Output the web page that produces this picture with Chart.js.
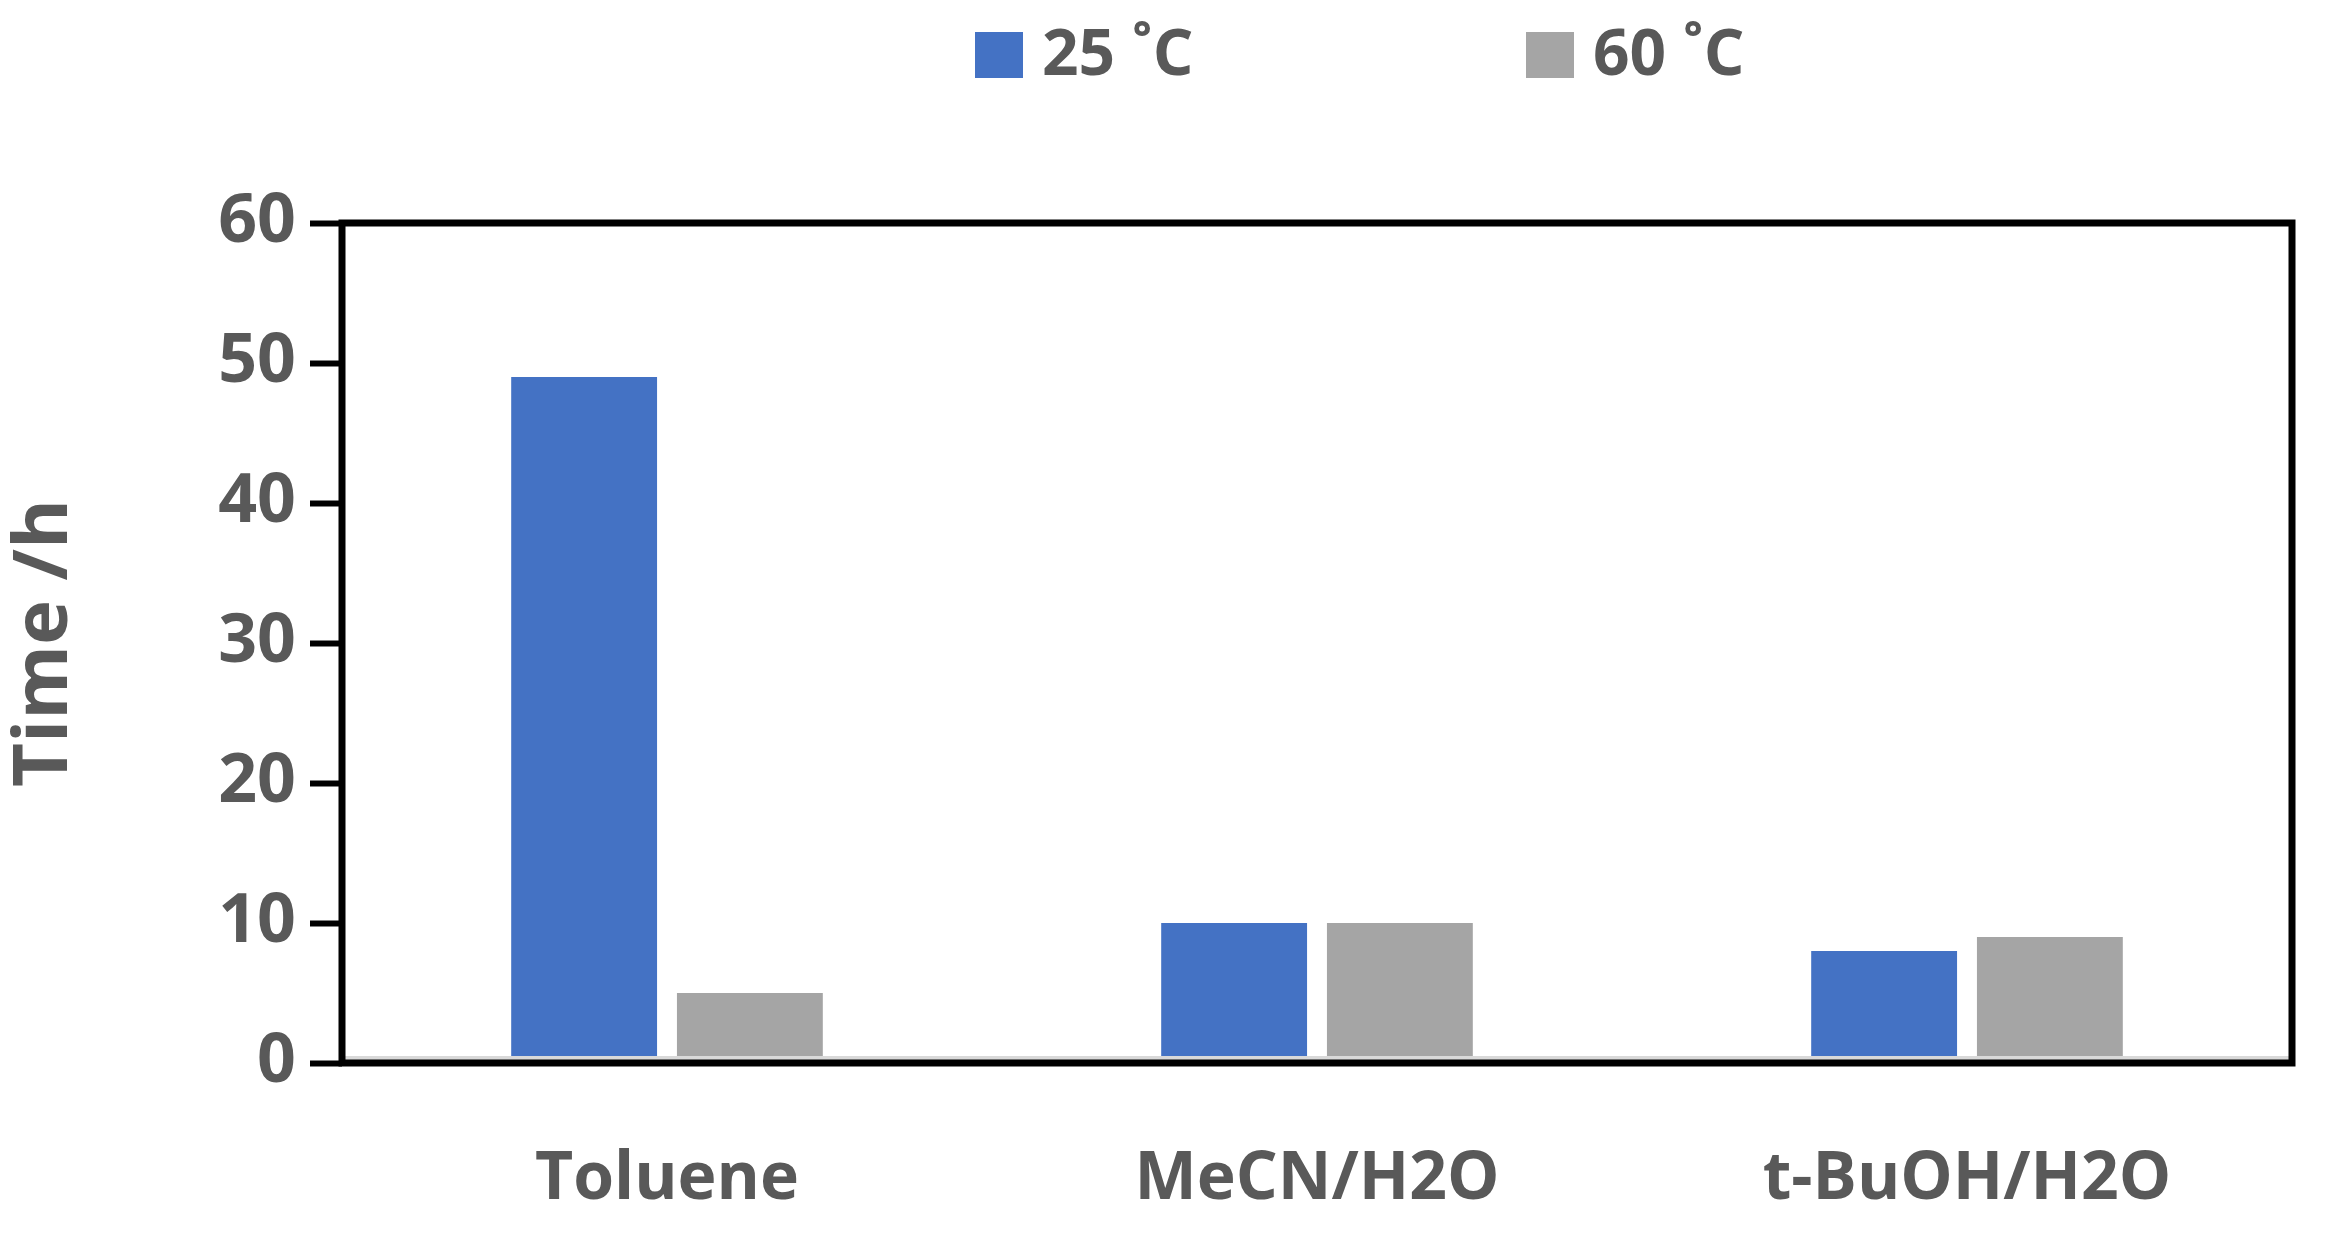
<!DOCTYPE html>
<html><head><meta charset="utf-8">
<script src="https://cdn.jsdelivr.net/npm/chart.js@4"></script>
<style>html,body{margin:0;background:#fff}#w{width:2334px;height:1237px}</style>
</head><body><div id="w"><canvas id="c"></canvas></div>
<script>
const categories = ["Toluene", "MeCN/H2O", "t-BuOH/H2O"];
const series25 = [49, 10, 8];
const series60 = [5, 10, 9];
const seriesNames = ["25 ˚C", "60 ˚C"];
const yTicks = [0, 10, 20, 30, 40, 50, 60];

const FONT = "'Open Sans', 'Liberation Sans', sans-serif";
const GREY = "#595959";

const border = {
  id: "border",
  afterDatasetsDraw(chart) {
    const {ctx, chartArea: a} = chart;
    ctx.save();
    ctx.strokeStyle = "#d9d9d9"; ctx.lineWidth = 6;
    ctx.beginPath(); ctx.moveTo(a.left, a.bottom - 4); ctx.lineTo(a.right, a.bottom - 4); ctx.stroke();
    ctx.strokeStyle = "#000"; ctx.lineWidth = 7;
    ctx.strokeRect(a.left, a.top, a.right - a.left, a.bottom - a.top);
    // legend
    const items = [[975, chart.data.datasets[0]], [1526, chart.data.datasets[1]]];
    ctx.font = "bold 64px " + FONT;
    ctx.textBaseline = "middle";
    items.forEach(([x, ds]) => {
      ctx.fillStyle = ds.backgroundColor;
      ctx.fillRect(x, 32, 48, 46);
      ctx.fillStyle = GREY;
      ctx.fillText(ds.label, x + 67, 57);
    });
    ctx.restore();
  }
};

new Chart(document.getElementById("c"), {
  type: "bar",
  data: {
    labels: categories,
    datasets: [
      {label: seriesNames[0], data: series25, backgroundColor: "#4472c4"},
      {label: seriesNames[1], data: series60, backgroundColor: "#a5a5a5"}
    ]
  },
  options: {
    responsive: true, maintainAspectRatio: false, animation: false,
    devicePixelRatio: 1,
    layout: {padding: {top: 223, right: 42, bottom: 0, left: 0}},
    categoryPercentage: 0.51, barPercentage: 0.88,
    plugins: {legend: {display: false}, tooltip: {enabled: false}},
    scales: {
      x: {
        afterFit(s) { s.height = 174; },
        grid: {display: false, drawTicks: false},
        border: {display: false},
        ticks: {font: {family: FONT, size: 66, weight: "bold"}, color: GREY, padding: 78}
      },
      y: {
        min: 0, max: 60,
        afterFit(s) { s.width = 342; },
        afterBuildTicks(s) { s.ticks = yTicks.map(v => ({value: v})); },
        grid: {display: true, drawOnChartArea: false, drawTicks: true, tickLength: 32, tickWidth: 6, color: "#000"},
        border: {display: false},
        ticks: {font: {family: FONT, size: 68, weight: "bold"}, color: GREY, padding: 14},
        title: {display: true, text: "Time /h", font: {family: FONT, size: 76, weight: "bold"}, color: GREY, padding: 0}
      }
    }
  },
  plugins: [border]
});
</script></body></html>
